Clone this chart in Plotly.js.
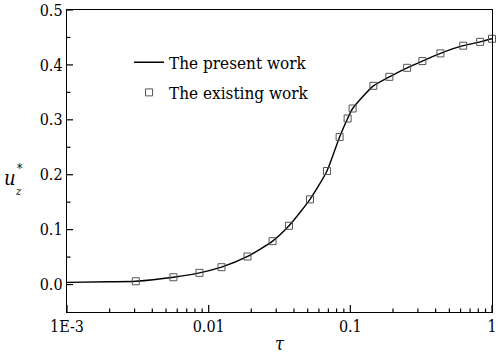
<!DOCTYPE html>
<html>
<head>
<meta charset="utf-8">
<script src="https://cdn.plot.ly/plotly-3.0.1.min.js"></script>
<style>html,body{margin:0;padding:0;background:#fff;}#chart{width:498px;height:354px;}</style>
</head>
<body>
<div id="chart"></div>
<script>
// Present work (solid line)
var lineTau = [0.001, 0.002, 0.00306, 0.00564, 0.00861, 0.01232, 0.0188, 0.02825, 0.03688, 0.0519, 0.0684, 0.084, 0.0957, 0.1038, 0.1454, 0.1886, 0.2517, 0.3228, 0.4325, 0.626, 0.825, 1.0];
var lineU   = [0.004, 0.005, 0.006, 0.0133, 0.0213, 0.0316, 0.0511, 0.079, 0.107, 0.1551, 0.2068, 0.2688, 0.3024, 0.3206, 0.3619, 0.3783, 0.3947, 0.407, 0.421, 0.435, 0.442, 0.4476];
// Existing work (open squares)
var ptsTau = [0.00306, 0.00564, 0.00861, 0.01232, 0.0188, 0.02825, 0.03688, 0.0519, 0.0684, 0.084, 0.0957, 0.1038, 0.1454, 0.1886, 0.2517, 0.3228, 0.4325, 0.626, 0.825, 1.0];
var ptsU   = [0.006, 0.0133, 0.0213, 0.0316, 0.0511, 0.079, 0.107, 0.1551, 0.2068, 0.2688, 0.3024, 0.3206, 0.3619, 0.3783, 0.3947, 0.407, 0.421, 0.435, 0.442, 0.4476];
var seriesNames = ["The present work", "The existing work"];
var xTickVals = [0.001, 0.01, 0.1, 1];
var xTickText = ["1E-3", "0.01", "0.1", "1"];
var yTickVals = [0, 0.1, 0.2, 0.3, 0.4, 0.5];
var yMinorVals = [0.05, 0.15, 0.25, 0.35, 0.45];
var xRangeLog = [-3, 0];
var yRange = [-0.05, 0.5];

var minorX = [];
[0.001, 0.01, 0.1].forEach(function(d){ for (var k = 2; k <= 9; k++) minorX.push(d*k); });

var W = 498, H = 354, M = {l: 67, r: 6, t: 10, b: 42};
var plotW = W - M.l - M.r, plotH = H - M.t - M.b;

// inward tick marks as a helper line trace, built from the tick value lists
var tx = [], ty = [];
var yPerPx = (yRange[1] - yRange[0]) / plotH;
var logPerPx = (xRangeLog[1] - xRangeLog[0]) / plotW;
function xTick(v, len) { tx.push(v, v, null); ty.push(yRange[0], yRange[0] + len * yPerPx, null); }
function yTick(v, len) {
  var x0 = Math.pow(10, xRangeLog[0]);
  tx.push(x0, Math.pow(10, xRangeLog[0] + len * logPerPx), null); ty.push(v, v, null);
}
xTickVals.forEach(function(v){ xTick(v, 7); });
minorX.forEach(function(v){ xTick(v, 3.5); });
yTickVals.forEach(function(v){ yTick(v, 6); });
yMinorVals.forEach(function(v){ yTick(v, 3.5); });

var font = "DejaVu Serif Condensed, DejaVu Serif";
var traces = [
  {x: tx, y: ty, mode: "lines", showlegend: false, hoverinfo: "skip", connectgaps: false,
   line: {color: "#000", width: 1.2}, cliponaxis: false},
  {x: lineTau, y: lineU, mode: "lines", name: seriesNames[0], legendgroup: "a",
   line: {color: "#000", width: 1.4, shape: "spline", smoothing: 0.6}, cliponaxis: false},
  {x: ptsTau, y: ptsU, mode: "markers", name: seriesNames[1], legendgroup: "b",
   marker: {symbol: "square-open", size: 7, color: "#555", line: {width: 1}}, cliponaxis: false}
];
var layout = {
  width: W, height: H,
  margin: M,
  paper_bgcolor: "#fff", plot_bgcolor: "rgba(0,0,0,0)",
  font: {family: font, color: "#000", size: 16},
  showlegend: true,
  legend: {x: 0.146, y: 0.885, xanchor: "left", yanchor: "top", bgcolor: "rgba(0,0,0,0)",
           font: {family: font, size: 17}, tracegroupgap: 5},
  xaxis: {type: "log", range: xRangeLog, tickvals: xTickVals, ticktext: xTickText,
          ticks: "", showline: true, linecolor: "black", linewidth: 1.2, mirror: true,
          showgrid: false, zeroline: false,
          tickfont: {family: font, size: 16, color: "#000"},
          title: {text: "<i>τ</i>", font: {family: font, size: 18}, standoff: 6}},
  yaxis: {range: yRange, tickvals: yTickVals, tickformat: ".1f",
          ticks: "", showline: true, linecolor: "black", linewidth: 1.2, mirror: true,
          showgrid: false, zeroline: false,
          tickfont: {family: font, size: 16, color: "#000"}},
  annotations: [
    {xref: "paper", yref: "paper", x: -0.134, y: 0.445, text: "<i>u</i>", showarrow: false,
     font: {family: font, size: 20}, xanchor: "center", yanchor: "middle"},
    {xref: "paper", yref: "paper", x: -0.11, y: 0.475, text: "*", showarrow: false,
     font: {family: font, size: 12}, xanchor: "center", yanchor: "middle"},
    {xref: "paper", yref: "paper", x: -0.113, y: 0.4, text: "<i>z</i>", showarrow: false,
     font: {family: font, size: 11}, xanchor: "center", yanchor: "middle"}
  ]
};
Plotly.newPlot("chart", traces, layout, {displayModeBar: false, staticPlot: true});
</script>
</body>
</html>
